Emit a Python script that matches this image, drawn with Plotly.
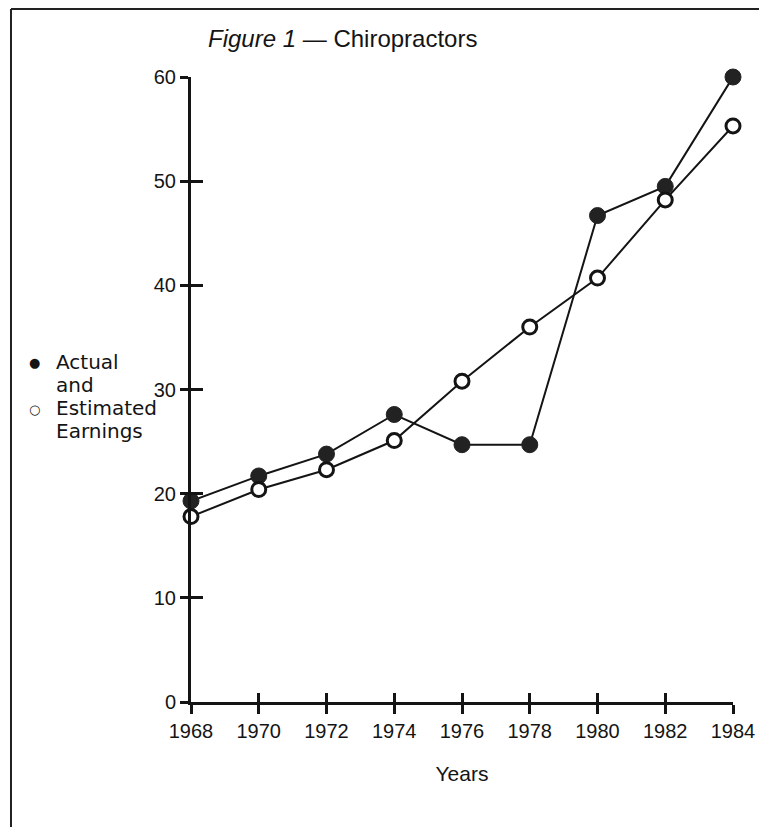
import plotly.graph_objects as go

years = [1968, 1970, 1972, 1974, 1976, 1978, 1980, 1982, 1984]
actual = [19.3, 21.7, 23.8, 27.6, 24.7, 24.7, 46.7, 49.5, 60.0]
estimated = [17.8, 20.4, 22.3, 25.1, 30.8, 36.0, 40.7, 48.2, 55.3]
y_ticks = [0, 10, 20, 30, 40, 50, 60]
x_ticks = years
title_text = "<i>Figure 1</i> — Chiropractors"
legend_lines = ["Actual", "and", "Estimated", "Earnings"]
x_title = "Years"

# the page body has an 8px margin, so the figure is drawn 8px in from the window edge
OFF = 8
W, H = 767 - OFF, 827 - OFF
ML, MR, MT, MB = 191 - OFF, 28, 77 - OFF, 827 - 702
FONT = "Liberation Sans, Arial, Helvetica, sans-serif"
INK = "#141414"

fig = go.Figure()

fig.add_trace(go.Scatter(
    x=years, y=actual, mode="lines+markers", cliponaxis=False,
    line=dict(color=INK, width=2),
    marker=dict(symbol="circle", size=16, color="#222", line=dict(color="#222", width=1)),
    showlegend=False, hoverinfo="skip"))
fig.add_trace(go.Scatter(
    x=years, y=estimated, mode="lines+markers", cliponaxis=False,
    line=dict(color=INK, width=2),
    marker=dict(symbol="circle", size=14, color="white", line=dict(color=INK, width=3)),
    showlegend=False, hoverinfo="skip"))
# invisible trace hosting the overlay axes that draw the inner halves of the ticks
fig.add_trace(go.Scatter(
    x=years, y=actual, xaxis="x2", yaxis="y2", mode="markers",
    marker=dict(opacity=0), showlegend=False, hoverinfo="skip"))

axis_common = dict(showgrid=False, zeroline=False, color=INK)
fig.update_layout(
    width=W, height=H, autosize=False,
    margin=dict(l=ML, r=MR, t=MT, b=MB),
    paper_bgcolor="white", plot_bgcolor="white",
    font=dict(family=FONT, color=INK, size=20),
    title=dict(text=title_text, x=(208 - OFF) / W, xanchor="left", xref="container",
               y=1 - (39 - OFF) / H, yanchor="middle", yref="container",
               font=dict(size=24, family=FONT, color=INK)),
    xaxis=dict(range=[1968, 1984], tickvals=x_ticks, ticktext=[str(v) for v in x_ticks],
               ticks="outside", ticklen=9, tickwidth=3, tickcolor=INK,
               showline=True, linewidth=3, linecolor=INK,
               ticklabelstandoff=0,
               tickfont=dict(size=20, family=FONT, color=INK),
               title=dict(text=x_title, standoff=26, font=dict(size=21, family=FONT, color=INK)),
               **axis_common),
    yaxis=dict(range=[0, 60], tickvals=y_ticks,
               ticks="outside", ticklen=8, tickwidth=3, tickcolor=INK,
               showline=True, linewidth=3, linecolor=INK,
               tickfont=dict(size=20, family=FONT, color=INK),
               **axis_common),
    xaxis2=dict(range=[1968, 1984], tickvals=x_ticks, overlaying="x", anchor="y2",
                side="bottom", ticks="inside", ticklen=9, tickwidth=3, tickcolor=INK,
                showticklabels=False, showline=False, **axis_common),
    yaxis2=dict(range=[0, 60], tickvals=y_ticks, overlaying="y", anchor="x2",
                side="left", ticks="inside", ticklen=12, tickwidth=3, tickcolor=INK,
                showticklabels=False, showline=False, **axis_common),
)

PW = W - ML - MR
PH = H - MT - MB
def px_x(p):
    """page pixel x -> paper coordinate"""
    return (p - OFF - ML) / PW
def px_y(p):
    """page pixel y -> paper coordinate"""
    return (H - MB - (p - OFF)) / PH

# frame of the cropped page (left and top edges)
fig.add_shape(type="line", xref="paper", yref="paper",
              x0=px_x(OFF + 1), x1=px_x(OFF + 1), y0=px_y(OFF + 1), y1=px_y(827 + 4),
              line=dict(color="#222", width=2))
fig.add_shape(type="line", xref="paper", yref="paper",
              x0=px_x(OFF + 1), x1=px_x(767 + 4), y0=px_y(OFF + 1), y1=px_y(OFF + 1),
              line=dict(color="#222", width=2))

# legend-like text block at the left
LEG_FONT = "DejaVu Sans, Liberation Sans, sans-serif"
for txt, yc in zip(legend_lines, [361.5, 384.5, 408, 431.5]):
    fig.add_annotation(xref="paper", yref="paper", x=px_x(52), y=px_y(yc),
                       xanchor="left", yanchor="middle", align="left", showarrow=False,
                       text=txt, font=dict(size=20, family=LEG_FONT, color=INK))
fig.add_annotation(xref="paper", yref="paper", x=px_x(33), y=px_y(362),
                   xanchor="center", yanchor="middle", showarrow=False,
                   text="●", font=dict(size=13, family="DejaVu Sans", color=INK))
fig.add_annotation(xref="paper", yref="paper", x=px_x(33), y=px_y(410),
                   xanchor="center", yanchor="middle", showarrow=False,
                   text="<b>○</b>", font=dict(size=13, family="DejaVu Sans", color=INK))

fig.write_html("out.html")
